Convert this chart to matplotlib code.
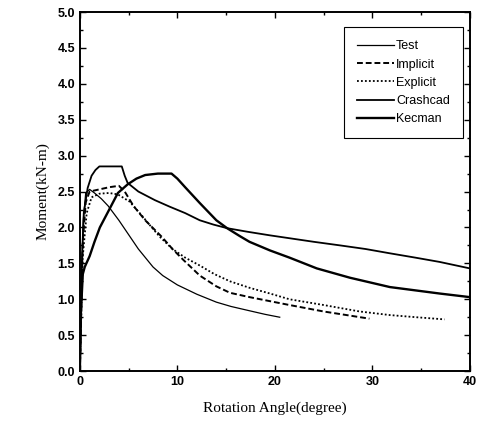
import numpy as np
import matplotlib.pyplot as plt
from matplotlib.ticker import MultipleLocator

# rotation (degree) / moment (kN-m) for each model
test_x = [0, 0.15, 0.35, 0.6, 1.0, 1.5, 2.2, 2.9, 4.0, 5.0, 6.0, 7.5, 8.5, 10.0, 12.0, 14.0, 15.5, 17.4, 19.0, 20.5]
test_y = [0, 1.2, 2.1, 2.48, 2.53, 2.48, 2.4, 2.3, 2.1, 1.9, 1.7, 1.45, 1.33, 1.2, 1.07, 0.96, 0.9, 0.84, 0.79, 0.75]

impl_x = [0, 0.3, 0.6, 1.0, 2.0, 3.0, 4.0, 4.6, 5.5, 6.7, 8.4, 9.5, 10.6, 12.3, 14.0, 15.4, 17.4, 20.0, 21.5, 25.0, 29.7]
impl_y = [0, 1.8, 2.35, 2.5, 2.53, 2.56, 2.58, 2.5, 2.3, 2.1, 1.87, 1.7, 1.55, 1.33, 1.18, 1.09, 1.03, 0.96, 0.92, 0.83, 0.73]

expl_x = [0, 0.3, 0.7, 1.2, 2.0, 3.0, 3.9, 5.1, 6.4, 7.0, 8.2, 9.5, 10.8, 12.3, 13.8, 15.4, 17.4, 19.5, 21.5, 25.0, 28.7, 31.8, 34.5, 37.4]
expl_y = [0, 1.6, 2.2, 2.42, 2.47, 2.48, 2.46, 2.36, 2.16, 2.06, 1.87, 1.7, 1.58, 1.47, 1.35, 1.25, 1.16, 1.08, 1.0, 0.92, 0.83, 0.78, 0.75, 0.72]

crash_x = [0, 0.2, 0.4, 0.8, 1.2, 1.6, 2.0, 4.3, 4.6, 4.9, 6.0, 7.7, 9.2, 10.8, 12.3, 13.7, 15.1, 17.2, 19.5, 21.5, 24.0, 26.7, 29.3, 31.8, 34.4, 36.9, 40.0]
crash_y = [0, 1.5, 2.2, 2.55, 2.72, 2.8, 2.85, 2.85, 2.72, 2.62, 2.5, 2.38, 2.29, 2.2, 2.1, 2.04, 1.99, 1.94, 1.89, 1.85, 1.8, 1.75, 1.7, 1.64, 1.58, 1.52, 1.43]

kec_x = [0, 0.1, 0.3, 0.5, 1.0, 1.5, 2.05, 2.9, 3.9, 4.9, 5.8, 6.7, 8.0, 9.4, 10.0, 10.8, 12.3, 14.0, 15.1, 16.4, 17.4, 19.5, 21.5, 24.3, 27.7, 31.8, 36.9, 40.0]
kec_y = [0, 0.8, 1.35, 1.45, 1.6, 1.8, 2.0, 2.22, 2.48, 2.6, 2.68, 2.73, 2.75, 2.75, 2.68, 2.56, 2.34, 2.1, 1.99, 1.88, 1.8, 1.68, 1.58, 1.43, 1.3, 1.17, 1.08, 1.03]

plt.rcParams['font.family'] = ['Liberation Sans', 'DejaVu Sans']

fig = plt.figure(figsize=(4.93, 4.29), dpi=100)
ax = fig.add_axes([0.162, 0.135, 0.791, 0.837])

ax.plot(test_x, test_y, 'k-', lw=0.9, label='Test')
ax.plot(impl_x, impl_y, 'k--', lw=1.4, dashes=(3, 1.5), label='Implicit')
ax.plot(expl_x, expl_y, 'k:', lw=1.3, dashes=(1, 1.2), label='Explicit')
ax.plot(crash_x, crash_y, 'k-', lw=1.3, label='Crashcad')
ax.plot(kec_x, kec_y, 'k-', lw=1.7, label='Kecman')

ax.set_xlim(0, 40)
ax.set_ylim(0, 5.0)
ax.xaxis.set_major_locator(MultipleLocator(10))
ax.xaxis.set_minor_locator(MultipleLocator(5))
ax.yaxis.set_major_locator(MultipleLocator(0.5))
ax.yaxis.set_minor_locator(MultipleLocator(0.25))
ax.yaxis.set_major_formatter(plt.FormatStrFormatter('%.1f'))
ax.tick_params(which='both', direction='in', top=True, right=True, labelsize=9, width=1)
ax.tick_params(which='major', length=4)
ax.tick_params(which='minor', length=2)
for lab in ax.get_xticklabels() + ax.get_yticklabels():
    lab.set_fontweight('bold')
for s in ax.spines.values():
    s.set_linewidth(1.4)

ax.set_xlabel('Rotation Angle(degree)', family='Liberation Serif', fontsize=11, labelpad=10)
ax.set_ylabel('Moment(kN-m)', family='Liberation Serif', fontsize=11, labelpad=6)

leg = ax.legend(loc='upper right', bbox_to_anchor=(0.999, 0.975), fontsize=9,
                handlelength=3.0, handletextpad=0.15, labelspacing=0.5,
                fancybox=False, edgecolor='k', framealpha=1, borderpad=1.05)
leg.get_frame().set_linewidth(0.8)

fig.savefig('out.png', dpi=100)
